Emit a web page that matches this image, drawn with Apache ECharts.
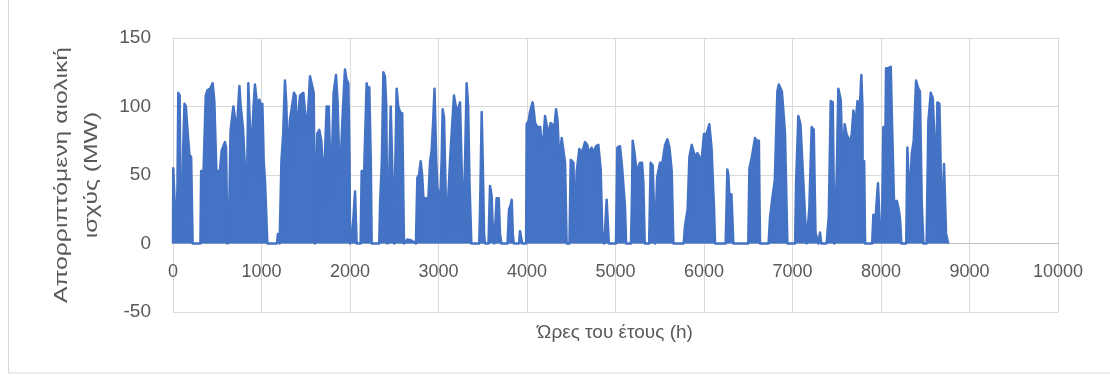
<!DOCTYPE html>
<html>
<head>
<meta charset="utf-8">
<title>Απορριπτόμενη αιολική ισχύς</title>
<script src="https://cdn.jsdelivr.net/npm/echarts@6/dist/echarts.min.js"></script>
<style>
  html, body { margin: 0; padding: 0; background: #ffffff; }
  #chart { width: 1110px; height: 379px; }
</style>
</head>
<body>
<div id="chart"></div>
<script>
// Hour of the year for each vertex of the curtailed-power trace
const hours = [
  0, 3, 25, 35, 50, 60, 75, 88, 100, 115, 130, 145, 165, 185, 205, 222,
  310, 318, 345, 370, 390, 420, 448, 467, 490, 530, 550, 587, 600, 614, 630, 650,
  682, 700, 720, 750, 765, 790, 810, 825, 840, 851, 870, 890, 910, 926, 945, 960,
  975, 995, 1010, 1025, 1040, 1060, 1066,
  1175, 1185, 1195, 1205, 1215, 1225, 1245, 1265, 1280, 1300, 1320, 1345, 1367, 1385,
  1400, 1435, 1450, 1473, 1490, 1510, 1530, 1548, 1570, 1590, 1605, 1615, 1630, 1653,
  1675, 1690, 1700, 1720, 1736, 1760, 1775, 1782, 1795, 1815, 1842, 1860, 1880, 1895,
  1917, 1943, 1960, 1981, 1995, 2000, 2020, 2040, 2057, 2075, 2120, 2132, 2160, 2188,
  2205, 2218, 2235, 2245, 2330, 2340, 2360, 2377, 2395, 2410, 2422, 2440, 2460, 2480,
  2500, 2510, 2527, 2545, 2565, 2590, 2610, 2650, 2700, 2745, 2761, 2780, 2799, 2815,
  2830, 2885, 2905, 2923, 2940, 2955, 2962, 2975, 2987, 3005, 3020, 3035, 3047, 3062,
  3080, 3092, 3110, 3130, 3150, 3175, 3195, 3210, 3230, 3243, 3262, 3280, 3300, 3318,
  3335, 3350, 3371, 3460, 3470, 3488, 3500, 3515, 3525, 3565, 3582, 3600, 3610, 3630,
  3650, 3657, 3680, 3695, 3710, 3780, 3797, 3815, 3827, 3840, 3850, 3910, 3921, 3935,
  3945, 3990, 3996, 4020, 4034, 4050, 4064, 4080, 4090, 4117, 4150, 4165, 4177, 4190,
  4204, 4225, 4240, 4268, 4290, 4310, 4328, 4345, 4365, 4392, 4410, 4430, 4448, 4480,
  4494, 4510, 4525, 4540, 4561, 4575, 4591, 4610, 4640, 4655, 4680, 4700, 4731, 4750,
  4780, 4806, 4833, 4850, 4874, 4890, 4900, 4915, 4925, 5005, 5021, 5040, 5051, 5075,
  5107, 5120, 5175, 5185, 5194, 5215, 5240, 5277, 5300, 5315, 5330, 5380, 5397, 5420,
  5440, 5447, 5470, 5503, 5530, 5560, 5586, 5610, 5635, 5654, 5770, 5786, 5800, 5815,
  5835, 5861, 5880, 5900, 5925, 5950, 5974, 6000, 6030, 6060, 6085, 6113, 6125, 6245,
  6264, 6275, 6286, 6310, 6332, 6500, 6513, 6540, 6577, 6595, 6620, 6633, 6730, 6746,
  6776, 6800, 6829, 6845, 6859, 6880, 6915, 6930, 6942, 7030, 7040, 7066, 7090, 7120,
  7142, 7160, 7180, 7190, 7217, 7240, 7260, 7292, 7300, 7311, 7325, 7385, 7394, 7410,
  7432, 7455, 7473, 7500, 7518, 7545, 7565, 7590, 7610, 7630, 7650, 7670, 7688, 7710,
  7735, 7755, 7778, 7790, 7795, 7810, 7820, 7900, 7914, 7940, 7966, 7990, 8010, 8027,
  8040, 8057, 8085, 8110, 8125, 8147, 8180, 8200, 8215, 8230, 8285, 8298, 8320, 8347,
  8370, 8396, 8422, 8440, 8460, 8479, 8515, 8535, 8562, 8585, 8600, 8620, 8637, 8660,
  8675, 8695, 8712, 8735, 8760
];

// Curtailed wind power (MW) at each of the hours above
const power = [
  0, 55, 55, 3, 40, 110, 108, 5, 3, 70, 102, 100, 82, 65, 63, 0,
  0, 53, 53, 108, 112, 113, 117, 104, 53, 53, 68, 74, 70, 0, 5, 82,
  100, 92, 80, 115, 100, 85, 60, 34, 60, 117, 85, 70, 100, 116, 104, 100,
  105, 100, 102, 60, 45, 44, 0,
  0, 7, 7, 0, 0, 60, 80, 119, 102, 55, 90, 100, 110, 108,
  80, 108, 108, 110, 110, 82, 100, 122, 123, 110, 0, 40, 80, 83,
  75, 60, 26, 70, 100, 100, 60, 35, 60, 110, 123, 103, 55, 60,
  94, 127, 120, 117, 60, 0, 5, 20, 38, 0, 0, 53, 53, 117,
  110, 114, 60, 0, 0, 29, 60, 125, 122, 100, 0, 40, 100, 100,
  0, 50, 113, 100, 96, 95, 0, 3, 2, 0, 48, 50, 60, 50,
  33, 33, 60, 68, 90, 113, 112, 60, 41, 35, 33, 60, 98, 92,
  40, 7, 33, 60, 82, 108, 100, 97, 100, 103, 55, 7, 60, 117,
  100, 45, 0, 0, 26, 96, 60, 7, 0, 0, 42, 35, 16, 0,
  0, 33, 33, 7, 0, 0, 25, 28, 32, 7, 0, 0, 9, 9,
  0, 0, 87, 90, 96, 100, 103, 95, 88, 85, 85, 70, 69, 80,
  93, 85, 80, 88, 89, 85, 98, 90, 59, 77, 77, 59, 0, 0,
  61, 60, 59, 7, 52, 60, 69, 66, 70, 74, 72, 66, 70, 66,
  71, 72, 54, 9, 0, 0, 32, 32, 0, 0, 70, 70, 71, 55,
  27, 0, 0, 31, 75, 66, 52, 59, 59, 44, 0, 0, 59, 57,
  57, 0, 48, 59, 59, 72, 76, 70, 53, 0, 0, 13, 13, 25,
  63, 72, 72, 63, 66, 63, 61, 80, 80, 87, 70, 26, 0, 0,
  54, 50, 36, 36, 0, 0, 55, 63, 77, 75, 75, 0, 0, 19,
  35, 46, 111, 116, 116, 111, 81, 81, 0, 0, 43, 93, 87, 48,
  20, 0, 0, 26, 85, 83, 8, 0, 0, 8, 0, 0, 7, 20,
  104, 103, 0, 51, 113, 105, 60, 87, 80, 77, 74, 80, 97, 87,
  104, 91, 123, 100, 16, 60, 0, 0, 21, 20, 44, 7, 5, 85,
  16, 128, 128, 129, 87, 31, 31, 25, 18, 0, 0, 70, 30, 65,
  75, 119, 113, 111, 31, 0, 0, 89, 110, 106, 82, 41, 103, 102,
  55, 7, 58, 7, 0
];

// Axis ticks
const xTicks = [0, 1000, 2000, 3000, 4000, 5000, 6000, 7000, 8000, 9000, 10000];
const yTicks = [-50, 0, 50, 100, 150];

const xTitle = 'Ώρες του έτους (h)';
const yTitle = 'Απορριπτόμενη αιολική\nισχύς (MW)';

const points = hours.map((h, i) => [h, power[i]]);

const TEXT = '#595959';
const GRID = '#d9d9d9';
const BLUE = '#4472c4';
const FONT = 'Liberation Sans, sans-serif';

// Plot box geometry; the hour axis is lifted from the bottom edge to the y = 0 line
const GRID_TOP = 38;
const GRID_BOTTOM = 67;
const plotHeight = 379 - GRID_TOP - GRID_BOTTOM;
const zeroLift = plotHeight * (0 - yTicks[0]) / (yTicks[yTicks.length - 1] - yTicks[0]);

const chart = echarts.init(document.getElementById('chart'), null, { renderer: 'canvas' });

chart.setOption({
  animation: false,
  backgroundColor: '#ffffff',
  grid: {
    left: 173, right: 52, top: GRID_TOP, bottom: GRID_BOTTOM,
    containLabel: false,
    outerBoundsMode: 'none'
  },
  xAxis: {
    type: 'value',
    position: 'bottom',
    offset: -zeroLift,
    min: xTicks[0],
    max: xTicks[xTicks.length - 1],
    interval: xTicks[1] - xTicks[0],
    axisLine: { onZero: false, lineStyle: { color: '#bfbfbf', width: 1 } },
    axisTick: { show: false },
    axisLabel: {
      color: TEXT, fontSize: 18, margin: 20, fontFamily: FONT,
      formatter: (v) => String(v)
    },
    splitLine: { show: true, lineStyle: { color: GRID, width: 1 } }
  },
  yAxis: {
    type: 'value',
    min: yTicks[0],
    max: yTicks[yTicks.length - 1],
    interval: yTicks[1] - yTicks[0],
    axisLine: { show: false },
    axisTick: { show: false },
    axisLabel: {
      color: TEXT, fontSize: 19, margin: 22, fontFamily: FONT,
      formatter: (v) => String(v)
    },
    splitLine: { show: true, lineStyle: { color: GRID, width: 1 } }
  },
  graphic: [
    {
      type: 'rect',
      silent: true,
      shape: { x: 8.5, y: -5, width: 1110, height: 378 },
      style: { fill: 'none', stroke: GRID, lineWidth: 1 }
    },
    {
      type: 'text',
      silent: true,
      x: 77,
      y: 175,
      rotation: Math.PI / 2,
      scaleX: 1.3,
      style: {
        text: yTitle,
        fill: TEXT,
        fontSize: 19,
        fontFamily: FONT,
        lineHeight: 30,
        align: 'center',
        verticalAlign: 'middle'
      }
    },
    {
      type: 'text',
      silent: true,
      x: 615,
      y: 333,
      style: {
        text: xTitle,
        fill: TEXT,
        fontSize: 19,
        fontFamily: FONT,
        align: 'center',
        verticalAlign: 'middle'
      }
    }
  ],
  series: [
    {
      type: 'line',
      data: points,
      showSymbol: false,
      symbol: 'none',
      lineStyle: { color: BLUE, width: 2.5, join: 'round' },
      areaStyle: { color: BLUE, opacity: 1 },
      z: 3
    }
  ]
});
</script>
</body>
</html>
